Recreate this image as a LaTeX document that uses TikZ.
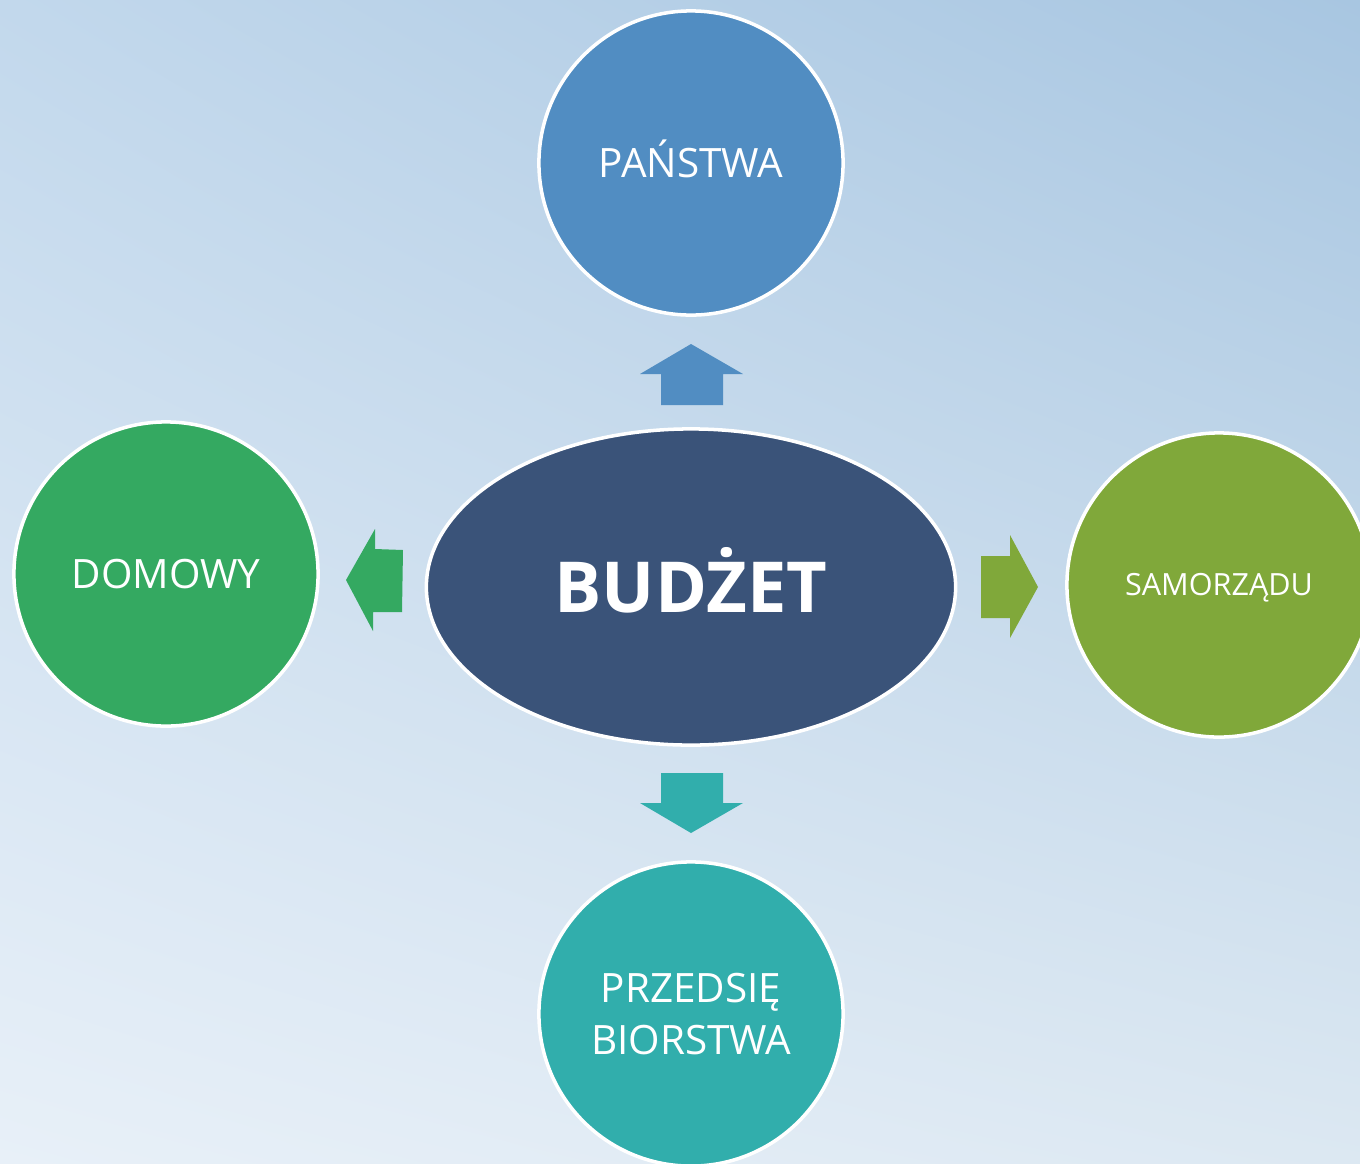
\documentclass[tikz,border=0pt]{standalone}
\usepackage{fontspec}
\setmainfont{Open Sans}
\usetikzlibrary{shapes.geometric,shadings}
\definecolor{bgtl}{HTML}{C2D8EC}
\definecolor{bgtr}{HTML}{A8C6E1}
\definecolor{bgbl}{HTML}{E8F0F8}
\definecolor{bgbr}{HTML}{DCE8F2}
\definecolor{panstwo}{HTML}{518DC2}
\definecolor{budzet}{HTML}{3A5379}
\definecolor{domowy}{HTML}{34A961}
\definecolor{samorzad}{HTML}{80A83A}
\definecolor{firma}{HTML}{31AEAC}
\tikzset{every node/.append style={text=white}}
\tikzset{kolo/.style={circle,draw=white,line width=1pt,minimum size=3.04cm,inner sep=0pt,align=center}}
\tikzset{duzy/.style={font=\fontsize{11.5}{14}\selectfont,text height=8.2pt,text depth=0pt}}

\begin{document}
\begin{tikzpicture}[x=0.01cm,y=-0.01cm]
\clip (0,0) rectangle (1360,1163);
\shade[upper left=bgtl,upper right=bgtr,lower left=bgbl,lower right=bgbr] (0,0) rectangle (1360,1163);
% kola
\node[kolo,duzy,fill=panstwo] (panstwa) at (691,163) {PAŃSTWA};
\node[kolo,duzy,fill=domowy] (domowy) at (166,574) {DOMOWY};
\node[kolo,fill=samorzad,font=\fontsize{8.7}{11}\selectfont,text height=6.2pt,text depth=0pt] (samorzadu) at (1219,585) {SAMORZĄDU};
\node[kolo,fill=firma,font=\fontsize{11.5}{14.6}\selectfont] (przeds) at (691,1014) {PRZEDSIĘ\\BIORSTWA};
\node[ellipse,draw=white,line width=1pt,fill=budzet,minimum width=5.29cm,minimum height=3.16cm,inner sep=0pt,
      font=\fontsize{20}{24}\bfseries,text height=14.3pt,text depth=0pt] (budzet) at (691,587) {BUDŻET};
% strzalki
\fill[panstwo] (661,405) -- (661,374) -- (640,374) -- (691,344) -- (743,374) -- (723,374) -- (723,405) -- cycle;
\fill[firma] (661,773) -- (661,803) -- (640,803) -- (691,833) -- (743,803) -- (723,803) -- (723,773) -- cycle;
\fill[samorzad] (981,556) -- (1010,556) -- (1010,535) -- (1038,587) -- (1010,638) -- (1010,618) -- (981,618) -- cycle;
\fill[domowy] (403,550) -- (375,549) -- (375,529) -- (346,580) -- (373,631) -- (373,612) -- (402,612) -- cycle;
\end{tikzpicture}
\end{document}
